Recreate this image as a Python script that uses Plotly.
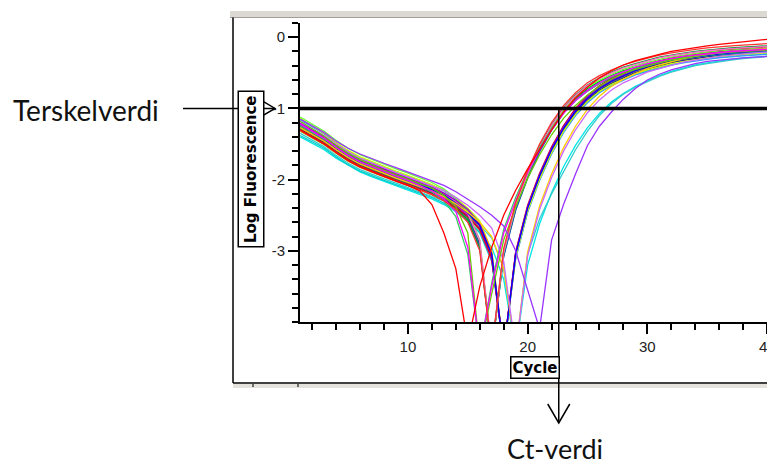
import plotly.graph_objects as go

# ---------------- data ----------------
cycles = list(range(1, 41))

THRESHOLD = -1.0      # Terskelverdi (log fluorescence)
CT = 22.6             # Ct-verdi (cycle)

y_ticks = [0, -1, -2, -3]
y_ticktext = ["0", "-1", "-2", "-3"]
x_ticks = [10, 20, 30, 40]

red = [-1.30,-1.40,-1.50,-1.62,-1.73,-1.82,-1.89,-1.96,-2.02,-2.08,-2.16,-2.35,-2.75,-3.25,-4.30,-3.50,-2.95,-2.50,-2.15,-1.85,-1.57,-1.30,-1.05,-0.85,-0.70,-0.57,-0.47,-0.39,-0.33,-0.28,-0.24,-0.20,-0.17,-0.14,-0.12,-0.10,-0.08,-0.06,-0.05,-0.03]
magenta = [-1.22,-1.32,-1.42,-1.55,-1.66,-1.75,-1.82,-1.89,-1.95,-2.01,-2.08,-2.16,-2.27,-2.45,-2.95,-4.40,-3.50,-2.75,-2.30,-1.90,-1.58,-1.30,-1.07,-0.89,-0.75,-0.64,-0.55,-0.48,-0.42,-0.37,-0.33,-0.30,-0.27,-0.25,-0.23,-0.21,-0.20,-0.19,-0.18,-0.17]
lightgreen = [-1.18,-1.28,-1.39,-1.52,-1.63,-1.72,-1.80,-1.87,-1.93,-1.99,-2.05,-2.12,-2.22,-2.38,-2.75,-4.40,-3.60,-2.85,-2.38,-1.98,-1.65,-1.37,-1.14,-0.96,-0.81,-0.69,-0.59,-0.51,-0.45,-0.40,-0.36,-0.32,-0.29,-0.26,-0.24,-0.22,-0.21,-0.20,-0.19,-0.18]
green3 = [-1.24,-1.33,-1.43,-1.55,-1.66,-1.75,-1.82,-1.89,-1.95,-2.01,-2.08,-2.17,-2.30,-2.52,-3.05,-4.40,-3.45,-2.70,-2.25,-1.87,-1.55,-1.28,-1.06,-0.89,-0.76,-0.65,-0.56,-0.49,-0.43,-0.38,-0.34,-0.31,-0.28,-0.26,-0.24,-0.22,-0.20,-0.19,-0.18,-0.17]
lime = [-1.12,-1.22,-1.32,-1.45,-1.56,-1.65,-1.72,-1.79,-1.85,-1.91,-1.97,-2.04,-2.13,-2.26,-2.45,-2.85,-4.40,-3.03,-2.38,-1.93,-1.56,-1.26,-1.02,-0.84,-0.70,-0.60,-0.52,-0.45,-0.40,-0.35,-0.31,-0.28,-0.25,-0.23,-0.21,-0.19,-0.18,-0.17,-0.16,-0.15]
teal = [-1.28,-1.37,-1.47,-1.59,-1.70,-1.79,-1.86,-1.93,-1.99,-2.05,-2.11,-2.18,-2.27,-2.39,-2.56,-2.95,-4.40,-3.08,-2.43,-1.98,-1.61,-1.31,-1.07,-0.89,-0.75,-0.65,-0.57,-0.50,-0.45,-0.40,-0.36,-0.33,-0.30,-0.28,-0.26,-0.24,-0.23,-0.22,-0.21,-0.20]
green = [-1.26,-1.35,-1.45,-1.57,-1.68,-1.77,-1.84,-1.91,-1.97,-2.03,-2.09,-2.16,-2.25,-2.37,-2.53,-2.90,-4.40,-3.05,-2.40,-1.95,-1.58,-1.28,-1.04,-0.86,-0.72,-0.62,-0.54,-0.47,-0.42,-0.37,-0.33,-0.30,-0.27,-0.25,-0.23,-0.21,-0.20,-0.19,-0.18,-0.17]
pink = [-1.20,-1.29,-1.39,-1.51,-1.62,-1.71,-1.78,-1.85,-1.91,-1.97,-2.03,-2.10,-2.19,-2.31,-2.48,-2.85,-4.40,-3.01,-2.36,-1.91,-1.54,-1.24,-1.00,-0.82,-0.68,-0.58,-0.50,-0.43,-0.38,-0.33,-0.29,-0.26,-0.23,-0.21,-0.19,-0.17,-0.16,-0.15,-0.14,-0.13]
darkgreen = [-1.29,-1.38,-1.48,-1.60,-1.71,-1.80,-1.87,-1.94,-2.00,-2.06,-2.12,-2.19,-2.28,-2.40,-2.57,-2.96,-4.40,-3.00,-2.35,-1.90,-1.53,-1.23,-0.99,-0.81,-0.67,-0.57,-0.49,-0.42,-0.37,-0.32,-0.28,-0.25,-0.22,-0.20,-0.18,-0.16,-0.15,-0.14,-0.13,-0.12]
blue2 = [-1.23,-1.32,-1.42,-1.54,-1.65,-1.74,-1.81,-1.88,-1.94,-2.00,-2.06,-2.13,-2.22,-2.34,-2.50,-2.92,-4.40,-3.07,-2.42,-1.97,-1.60,-1.30,-1.06,-0.88,-0.74,-0.64,-0.56,-0.49,-0.44,-0.39,-0.35,-0.32,-0.29,-0.27,-0.25,-0.23,-0.22,-0.21,-0.20,-0.19]
red2 = [-1.31,-1.40,-1.50,-1.62,-1.73,-1.82,-1.89,-1.96,-2.02,-2.08,-2.14,-2.21,-2.30,-2.42,-2.60,-3.00,-4.40,-2.97,-2.32,-1.87,-1.50,-1.20,-0.96,-0.78,-0.64,-0.54,-0.46,-0.39,-0.34,-0.29,-0.25,-0.22,-0.19,-0.17,-0.15,-0.13,-0.12,-0.11,-0.10,-0.09]
blue = [-1.24,-1.33,-1.43,-1.55,-1.66,-1.75,-1.82,-1.89,-1.95,-2.01,-2.07,-2.14,-2.22,-2.33,-2.47,-2.65,-3.05,-4.40,-3.05,-2.40,-1.95,-1.58,-1.28,-1.04,-0.86,-0.72,-0.62,-0.54,-0.47,-0.42,-0.37,-0.33,-0.30,-0.27,-0.25,-0.23,-0.21,-0.20,-0.19,-0.18]
cyan = [-1.38,-1.47,-1.56,-1.68,-1.79,-1.88,-1.95,-2.01,-2.07,-2.13,-2.19,-2.25,-2.33,-2.43,-2.56,-2.75,-3.15,-4.40,-3.10,-2.45,-2.00,-1.63,-1.33,-1.09,-0.91,-0.77,-0.67,-0.59,-0.52,-0.47,-0.42,-0.38,-0.35,-0.32,-0.30,-0.28,-0.26,-0.25,-0.24,-0.23]
orange = [-1.20,-1.30,-1.40,-1.52,-1.63,-1.72,-1.79,-1.86,-1.92,-1.98,-2.04,-2.11,-2.19,-2.30,-2.44,-2.62,-3.00,-4.40,-3.03,-2.38,-1.93,-1.56,-1.26,-1.02,-0.84,-0.70,-0.60,-0.52,-0.45,-0.40,-0.35,-0.31,-0.28,-0.25,-0.23,-0.21,-0.19,-0.18,-0.17,-0.16]
darkred = [-1.30,-1.39,-1.49,-1.61,-1.72,-1.81,-1.88,-1.95,-2.01,-2.07,-2.13,-2.20,-2.28,-2.39,-2.52,-2.70,-3.10,-4.40,-3.01,-2.36,-1.91,-1.54,-1.24,-1.00,-0.82,-0.68,-0.58,-0.50,-0.43,-0.38,-0.33,-0.29,-0.26,-0.23,-0.21,-0.19,-0.17,-0.16,-0.15,-0.14]
navy = [-1.22,-1.31,-1.41,-1.53,-1.64,-1.73,-1.80,-1.87,-1.93,-1.99,-2.05,-2.12,-2.20,-2.31,-2.45,-2.64,-3.08,-4.40,-3.08,-2.43,-1.98,-1.61,-1.31,-1.07,-0.89,-0.75,-0.65,-0.57,-0.50,-0.45,-0.40,-0.36,-0.33,-0.30,-0.28,-0.26,-0.24,-0.23,-0.22,-0.21]
olive = [-1.32,-1.41,-1.51,-1.63,-1.74,-1.83,-1.90,-1.96,-2.02,-2.08,-2.14,-2.21,-2.29,-2.40,-2.53,-2.71,-3.12,-4.40,-3.06,-2.41,-1.96,-1.59,-1.29,-1.05,-0.87,-0.73,-0.63,-0.55,-0.48,-0.43,-0.38,-0.34,-0.31,-0.28,-0.26,-0.24,-0.22,-0.21,-0.20,-0.19]
sky = [-1.16,-1.26,-1.36,-1.49,-1.60,-1.69,-1.76,-1.83,-1.89,-1.95,-2.01,-2.08,-2.16,-2.27,-2.41,-2.60,-3.02,-4.40,-3.11,-2.46,-2.01,-1.64,-1.34,-1.10,-0.92,-0.78,-0.68,-0.60,-0.53,-0.48,-0.43,-0.39,-0.36,-0.33,-0.31,-0.29,-0.27,-0.26,-0.25,-0.24]
purple2 = [-1.21,-1.30,-1.40,-1.52,-1.63,-1.72,-1.79,-1.86,-1.92,-1.98,-2.04,-2.11,-2.19,-2.29,-2.42,-2.62,-3.05,-4.40,-3.03,-2.38,-1.93,-1.56,-1.26,-1.02,-0.84,-0.70,-0.60,-0.52,-0.45,-0.40,-0.35,-0.31,-0.28,-0.25,-0.23,-0.21,-0.19,-0.18,-0.17,-0.16]
brown = [-1.26,-1.35,-1.45,-1.57,-1.68,-1.77,-1.84,-1.91,-1.97,-2.03,-2.09,-2.16,-2.24,-2.35,-2.49,-2.68,-3.08,-4.40,-3.05,-2.40,-1.95,-1.58,-1.28,-1.04,-0.86,-0.72,-0.62,-0.54,-0.47,-0.42,-0.37,-0.33,-0.30,-0.27,-0.25,-0.23,-0.21,-0.20,-0.19,-0.18]
yellowgreen = [-1.14,-1.24,-1.35,-1.48,-1.59,-1.68,-1.75,-1.82,-1.88,-1.94,-2.00,-2.07,-2.15,-2.26,-2.40,-2.58,-3.00,-4.40,-3.09,-2.44,-1.99,-1.62,-1.32,-1.08,-0.90,-0.76,-0.66,-0.58,-0.51,-0.46,-0.41,-0.37,-0.34,-0.31,-0.29,-0.27,-0.25,-0.24,-0.23,-0.22]
gray = [-1.28,-1.37,-1.47,-1.59,-1.70,-1.79,-1.86,-1.93,-1.99,-2.05,-2.11,-2.18,-2.26,-2.37,-2.50,-2.68,-3.10,-4.40,-3.07,-2.42,-1.97,-1.60,-1.30,-1.06,-0.88,-0.74,-0.64,-0.56,-0.49,-0.44,-0.39,-0.35,-0.32,-0.29,-0.27,-0.25,-0.23,-0.22,-0.21,-0.20]
magenta2 = [-1.27,-1.36,-1.46,-1.58,-1.69,-1.78,-1.85,-1.92,-1.98,-2.04,-2.10,-2.17,-2.25,-2.36,-2.50,-2.70,-3.12,-4.40,-3.04,-2.39,-1.94,-1.57,-1.27,-1.03,-0.85,-0.71,-0.61,-0.53,-0.46,-0.41,-0.36,-0.32,-0.29,-0.26,-0.24,-0.22,-0.20,-0.19,-0.18,-0.17]
gold = [-1.27,-1.36,-1.46,-1.58,-1.69,-1.78,-1.85,-1.92,-1.98,-2.04,-2.10,-2.16,-2.24,-2.34,-2.46,-2.60,-2.80,-3.25,-4.40,-3.02,-2.37,-1.92,-1.55,-1.25,-1.01,-0.83,-0.69,-0.59,-0.51,-0.44,-0.39,-0.34,-0.30,-0.27,-0.24,-0.22,-0.20,-0.18,-0.17,-0.16]
violet = [-1.19,-1.28,-1.38,-1.50,-1.61,-1.70,-1.77,-1.84,-1.90,-1.96,-2.02,-2.08,-2.15,-2.25,-2.36,-2.50,-2.68,-3.15,-4.40,-3.07,-2.42,-1.97,-1.60,-1.30,-1.06,-0.88,-0.74,-0.64,-0.56,-0.49,-0.44,-0.39,-0.35,-0.32,-0.29,-0.27,-0.25,-0.23,-0.22,-0.21]
cyan2 = [-1.35,-1.44,-1.54,-1.66,-1.77,-1.86,-1.93,-1.99,-2.05,-2.11,-2.17,-2.23,-2.30,-2.39,-2.50,-2.64,-2.82,-3.25,-4.40,-3.05,-2.55,-2.20,-1.88,-1.58,-1.32,-1.10,-0.93,-0.80,-0.70,-0.62,-0.55,-0.49,-0.44,-0.40,-0.37,-0.34,-0.32,-0.30,-0.28,-0.27]
cyan3 = [-1.40,-1.49,-1.58,-1.70,-1.80,-1.89,-1.96,-2.02,-2.08,-2.14,-2.20,-2.27,-2.35,-2.45,-2.58,-2.74,-2.95,-3.40,-4.40,-3.20,-2.62,-2.18,-1.82,-1.52,-1.27,-1.07,-0.91,-0.79,-0.69,-0.61,-0.54,-0.48,-0.43,-0.39,-0.36,-0.33,-0.31,-0.29,-0.28,-0.27]
purple = [-1.15,-1.24,-1.34,-1.46,-1.56,-1.64,-1.71,-1.77,-1.83,-1.89,-1.95,-2.01,-2.08,-2.17,-2.27,-2.38,-2.50,-2.65,-3.00,-3.55,-4.10,-2.85,-2.35,-1.92,-1.52,-1.25,-1.05,-0.87,-0.72,-0.60,-0.52,-0.46,-0.41,-0.37,-0.34,-0.32,-0.30,-0.29,-0.28,-0.27]

series = [
    ("cyan3", cyan3), ("cyan", cyan), ("cyan2", cyan2), ("olive", olive), ("gray", gray),
    ("navy", navy), ("sky", sky), ("brown", brown), ("yellowgreen", yellowgreen),
    ("teal", teal), ("green", green), ("blue2", blue2), ("darkgreen", darkgreen),
    ("magenta2", magenta2), ("orange", orange), ("darkred", darkred), ("lime", lime),
    ("pink", pink), ("purple2", purple2), ("blue", blue), ("gold", gold), ("violet", violet),
    ("green3", green3), ("lightgreen", lightgreen), ("magenta", magenta), ("red2", red2),
    ("purple", purple), ("red", red),
]

colors = {
    "red": "#ff0000", "magenta": "#ff00ff", "lightgreen": "#66cc00", "green3": "#33cc66",
    "lime": "#66ff33", "teal": "#009999", "green": "#00cc00", "pink": "#ff66cc",
    "darkgreen": "#009933", "blue2": "#3333cc", "red2": "#ff3333", "blue": "#0000ff",
    "cyan": "#00cccc", "orange": "#ff9900", "darkred": "#cc0033", "navy": "#000099",
    "olive": "#999900", "sky": "#3399ff", "purple2": "#9900cc", "brown": "#cc6600",
    "yellowgreen": "#ccff00", "gray": "#888888", "magenta2": "#cc00cc", "gold": "#ffcc00",
    "violet": "#cc66ff", "cyan2": "#33cccc", "cyan3": "#00e5e5", "purple": "#9933ff",
}

# ---------------- figure ----------------
W, H = 767, 466
L, R, T, B = 300, 0, 23, 144
PW, PH = W - L - R, H - T - B


def px(xp):   # page pixel -> paper x
    return (xp - L) / PW


def py(yp):   # page pixel -> paper y
    return (H - B - yp) / PH


fig = go.Figure()
for name, vals in series:
    fig.add_trace(go.Scatter(x=cycles, y=vals, mode="lines",
                             line=dict(color=colors[name], width=1.3),
                             showlegend=False, hoverinfo="skip"))

tickfont = dict(family="Liberation Sans, Arial, sans-serif", size=15, color="#222222")

fig.update_layout(
    width=W, height=H,
    margin=dict(l=L, r=R, t=T, b=B, pad=0),
    paper_bgcolor="white", plot_bgcolor="white",
    hovermode=False,
    xaxis=dict(range=[0.98, 40.0], showgrid=False, zeroline=False,
               showline=True, linecolor="black", linewidth=2,
               ticks="outside", tickvals=x_ticks, ticklen=10, tickwidth=2,
               tickcolor="black", tickfont=tickfont,
               minor=dict(dtick=2, tick0=0, ticks="outside", ticklen=6,
                          tickwidth=2, tickcolor="black")),
    yaxis=dict(range=[-4.0, 0.2], showgrid=False, zeroline=False,
               showline=True, linecolor="black", linewidth=2,
               ticks="outside", tickvals=y_ticks, ticktext=y_ticktext,
               ticklen=10, tickwidth=2, tickcolor="black", tickfont=tickfont,
               minor=dict(dtick=0.2, tick0=0, ticks="outside", ticklen=6,
                          tickwidth=2, tickcolor="black")),
)

shapes = []
# window frame of the screenshot
shapes.append(dict(type="rect", xref="paper", yref="paper",
                   x0=px(230), x1=px(W + 2), y0=py(17), y1=py(11),
                   fillcolor="#dcd9d2", line=dict(width=0), layer="below"))
shapes.append(dict(type="line", xref="paper", yref="paper",
                   x0=px(230), x1=px(W + 2), y0=py(17.5), y1=py(17.5),
                   line=dict(color="#a09e98", width=1)))
shapes.append(dict(type="line", xref="paper", yref="paper",
                   x0=px(233), x1=px(233), y0=py(17.5), y1=py(383),
                   line=dict(color="black", width=1.5)))
shapes.append(dict(type="line", xref="paper", yref="paper",
                   x0=px(233), x1=px(W + 2), y0=py(383), y1=py(383),
                   line=dict(color="black", width=1.5)))
shapes.append(dict(type="rect", xref="paper", yref="paper",
                   x0=px(233), x1=px(W + 2), y0=py(388), y1=py(384),
                   fillcolor="#e4e2dc", line=dict(width=0), layer="below"))
for tx in (253, 298):
    shapes.append(dict(type="line", xref="paper", yref="paper",
                       x0=px(tx), x1=px(tx), y0=py(383), y1=py(387),
                       line=dict(color="#444444", width=1.5)))

# threshold line (Terskelverdi)
shapes.append(dict(type="line", xref="paper", yref="y",
                   x0=0, x1=1, y0=THRESHOLD, y1=THRESHOLD,
                   line=dict(color="black", width=3.5), layer="above"))
# Ct vertical line: inside the plot then down below it
shapes.append(dict(type="line", xref="x", yref="y",
                   x0=CT, x1=CT, y0=THRESHOLD, y1=-4.0,
                   line=dict(color="black", width=1.5), layer="above"))
shapes.append(dict(type="line", xref="x", yref="paper",
                   x0=CT, x1=CT, y0=0, y1=py(423),
                   line=dict(color="black", width=1.5), layer="above"))
# Ct arrowhead (open V)
shapes.append(dict(type="path", xref="x", yref="paper",
                   path=f"M {CT - 0.92},{py(404)} L {CT},{py(423)} L {CT + 0.92},{py(404)}",
                   line=dict(color="black", width=1.5), layer="above"))
# Terskelverdi arrow
shapes.append(dict(type="line", xref="paper", yref="y",
                   x0=px(183), x1=px(275), y0=THRESHOLD, y1=THRESHOLD,
                   line=dict(color="black", width=1.5), layer="above"))
shapes.append(dict(type="path", xref="paper", yref="y",
                   path=f"M {px(258)},{THRESHOLD + 10/71.2} L {px(275)},{THRESHOLD} L {px(258)},{THRESHOLD - 10/71.2}",
                   line=dict(color="black", width=1.5), layer="above"))
fig.update_layout(shapes=shapes)

annotations = [
    dict(text="Terskelverdi", xref="paper", yref="paper", x=px(86), y=py(110),
         xanchor="center", yanchor="middle", showarrow=False,
         font=dict(family="Lato, Open Sans, sans-serif", size=28, color="#111111")),
    dict(text="Ct-verdi", xref="paper", yref="paper", x=px(555), y=py(448),
         xanchor="center", yanchor="middle", showarrow=False,
         font=dict(family="Lato, Open Sans, sans-serif", size=27, color="#111111")),
    dict(text="Log Fluorescence", xref="paper", yref="paper", x=px(250.5), y=py(169),
         xanchor="center", yanchor="middle", showarrow=False, textangle=-90,
         bordercolor="black", borderwidth=1.5, borderpad=3, bgcolor="white",
         font=dict(family="DejaVu Sans, sans-serif", size=15, color="black", weight="bold")),
    dict(text="Cycle", xref="paper", yref="paper", x=px(535), y=py(367),
         xanchor="center", yanchor="middle", showarrow=False,
         bordercolor="black", borderwidth=1.5, borderpad=1, bgcolor="white",
         font=dict(family="DejaVu Sans, sans-serif", size=15, color="black", weight="bold")),
    # last x tick label (40) sits on the right page edge and is cut, as in the reference
    dict(text=str(x_ticks[-1]), xref="x", yref="paper", x=x_ticks[-1], y=py(346),
         xanchor="center", yanchor="middle", showarrow=False,
         font=tickfont),
]
fig.update_layout(annotations=annotations)

fig.write_html("out.html")
